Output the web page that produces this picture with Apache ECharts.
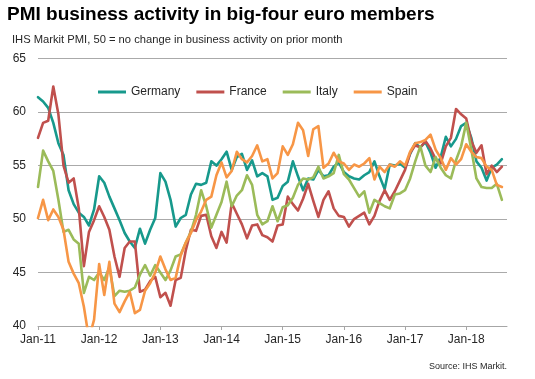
<!DOCTYPE html>
<html>
<head>
<meta charset="utf-8">
<script src="https://cdn.jsdelivr.net/npm/echarts@6/dist/echarts.min.js"></script>
<style>
html,body{margin:0;padding:0;background:#fff;}
#c{width:535px;height:379px;}
</style>
</head>
<body>
<div id="c"></div>
<script>
// Category labels (monthly, Jan-11 .. Sep-18 axis end)
const monthNames = ['Jan','Feb','Mar','Apr','May','Jun','Jul','Aug','Sep','Oct','Nov','Dec'];
const years = ['11','12','13','14','15','16','17','18'];
const categories = [];
years.forEach(y => monthNames.forEach(m => categories.push(m + '-' + y)));
categories.length = 93;
const tickLabels = ['Jan-11','Jan-12','Jan-13','Jan-14','Jan-15','Jan-16','Jan-17','Jan-18'];

const germany = [
  61.4, 61.0, 60.4, 59.0, 57.1, 56.0, 52.7, 51.4, 50.6, 50.2, 49.4, 50.9,
  54.0, 53.4, 52.1, 51.0, 49.9, 48.7, 47.9, 47.3, 49.1, 47.7, 49.0, 50.1,
  54.3, 53.5, 51.8, 49.3, 50.1, 50.4, 52.3, 53.3, 53.2, 53.4, 55.4, 55.0,
  55.6, 56.3, 54.6, 55.8, 56.1, 54.6, 55.5, 54.0, 54.3, 54.0, 51.8, 52.0,
  53.1, 53.5, 55.4, 54.0, 52.7, 53.8, 53.7, 54.6, 54.0, 54.1, 54.9, 55.3,
  54.4, 54.0, 53.8, 53.7, 54.1, 54.4, 55.4, 54.0, 52.8, 55.1, 55.0, 55.2,
  54.8, 56.1, 57.1, 56.7, 57.2, 56.2, 54.8, 55.8, 57.7, 56.8, 57.5, 58.7,
  59.0, 57.6, 55.4, 54.8, 53.6, 54.8, 55.1, 55.6
];
const france = [
  57.6, 59.0, 59.2, 62.4, 59.8, 55.0, 53.4, 53.8, 51.0, 45.6, 48.8, 49.9,
  51.2, 50.2, 49.0, 46.5, 44.6, 47.3, 47.9, 47.9, 43.2, 43.4, 44.2, 44.6,
  42.7, 43.1, 41.9, 44.3, 44.5, 47.1, 49.0, 48.9, 50.3, 50.4, 48.4, 47.3,
  48.8, 47.8, 51.5, 50.5, 49.5, 48.2, 49.4, 49.5, 48.5, 48.3, 47.9, 49.4,
  49.5, 52.1, 51.4, 50.8, 51.9, 53.3, 51.7, 50.2, 51.8, 52.6, 51.0, 50.3,
  50.2, 49.3, 50.0, 50.3, 50.6, 49.5, 50.3, 51.7, 52.7, 51.8, 52.6, 53.6,
  54.6, 56.2, 56.9, 56.7, 57.3, 56.6, 55.6, 55.2, 56.8, 57.6, 60.3, 59.8,
  59.4, 57.3, 56.2, 56.9, 54.2, 55.0, 54.4, 54.9
];
const italy = [
  53.0, 56.4, 55.4, 54.5, 51.8, 48.8, 49.0, 48.1, 47.7, 43.1, 44.6, 44.3,
  45.0, 44.3, 45.5, 42.8, 43.3, 43.2, 43.3, 43.6, 44.8, 45.7, 44.7, 45.7,
  45.0, 44.3, 45.2, 46.5, 46.7, 47.8, 48.8, 50.4, 52.7, 51.2, 49.2, 50.4,
  51.6, 53.5, 51.2, 52.2, 52.7, 54.1, 53.2, 50.4, 49.5, 49.8, 51.2, 49.8,
  51.1, 51.3, 52.0, 53.2, 53.8, 53.7, 53.9, 54.9, 53.8, 54.0, 54.3, 56.0,
  54.2, 53.7, 52.9, 52.1, 52.6, 50.6, 51.8, 51.5, 51.2, 51.0, 52.3, 52.4,
  52.7, 53.8, 55.4, 56.8, 55.0, 54.4, 55.8, 54.8, 54.1, 53.8, 55.5, 56.8,
  59.0, 56.5, 53.8, 53.0, 52.9, 52.9, 53.3, 51.8
];
const spain = [
  50.1, 51.8, 49.9, 50.9, 50.2, 49.0, 46.0, 44.9, 44.0, 41.8, 38.8, 40.6,
  45.8, 42.9, 46.0, 42.1, 41.3, 42.3, 43.2, 41.2, 41.5, 43.3, 44.0, 45.0,
  46.5, 45.3, 44.3, 44.5, 46.6, 47.8, 48.7, 49.9, 50.7, 51.8, 52.1, 54.1,
  55.3, 53.9, 54.5, 56.3, 55.6, 55.3, 55.9, 56.9, 55.4, 55.6, 53.8, 54.3,
  56.8, 56.0, 57.0, 59.0, 58.3, 55.9, 58.4, 58.7, 54.8, 55.2, 56.2, 55.4,
  55.2, 54.6, 55.1, 54.9, 55.2, 55.7, 53.7, 54.9, 54.4, 55.1, 54.9, 55.4,
  55.0, 56.3, 57.1, 57.2, 57.4, 57.9, 56.5, 55.7, 54.6, 55.7, 55.1, 55.6,
  57.0, 56.3, 55.8, 55.7, 54.9, 54.6, 53.2, 53.0
];

const FONT = 'Arial, "Liberation Sans", sans-serif';
const TXT = '#262626';

const chart = echarts.init(document.getElementById('c'), null, {renderer: 'canvas'});
function mk(name, data, color) {
  return {
    name: name, type: 'line', data: data, symbol: 'none', smooth: false,
    clip: true, color: color,
    lineStyle: {width: 2.6, color: color, cap: 'round', join: 'round'},
    emphasis: {disabled: true}
  };
}
chart.setOption({
  animation: false,
  backgroundColor: '#ffffff',
  title: [
    {text: 'PMI business activity in big-four euro members', left: 7, top: 5, padding: 0,
     textStyle: {fontFamily: FONT, fontSize: 19, fontWeight: 'bold', color: '#000'}},
    {text: 'IHS Markit PMI, 50 = no change in business activity on prior month', left: 12, top: 34, padding: 0,
     textStyle: {fontFamily: FONT, fontSize: 11.2, fontWeight: 'normal', color: TXT}},
    {text: 'Source: IHS Markit.', right: 28, top: 362, padding: 0,
     textStyle: {fontFamily: FONT, fontSize: 9, fontWeight: 'normal', color: TXT}}
  ],
  legend: {
    left: 98, top: 86, padding: 0,
    icon: 'rect', itemWidth: 28, itemHeight: 3, itemGap: 16,
    textStyle: {fontFamily: FONT, fontSize: 12, color: TXT},
    data: ['Germany', 'France', 'Italy', 'Spain']
  },
  grid: {left: 38, right: 28, top: 58.7, bottom: 53, containLabel: false},
  xAxis: {
    type: 'category', boundaryGap: false, data: categories,
    axisLine: {show: true, lineStyle: {color: '#a6a6a6', width: 1}},
    axisTick: {show: true, interval: 11, length: 4, lineStyle: {color: '#a6a6a6'}},
    axisLabel: {interval: 11, margin: 8, fontFamily: FONT, fontSize: 12, color: TXT,
      formatter: v => tickLabels.indexOf(v) >= 0 ? v : ''},
    splitLine: {show: false}
  },
  yAxis: {
    type: 'value', min: 40, max: 65, interval: 5,
    axisLine: {show: false}, axisTick: {show: false},
    axisLabel: {margin: 12, fontFamily: FONT, fontSize: 12, color: TXT},
    splitLine: {show: true, lineStyle: {color: '#aaaaaa', width: 1}}
  },
  series: [
    mk('Germany', germany, '#17998c'),
    mk('France', france, '#c0504d'),
    mk('Italy', italy, '#9bbb59'),
    mk('Spain', spain, '#f79646')
  ]
});
</script>
</body>
</html>
